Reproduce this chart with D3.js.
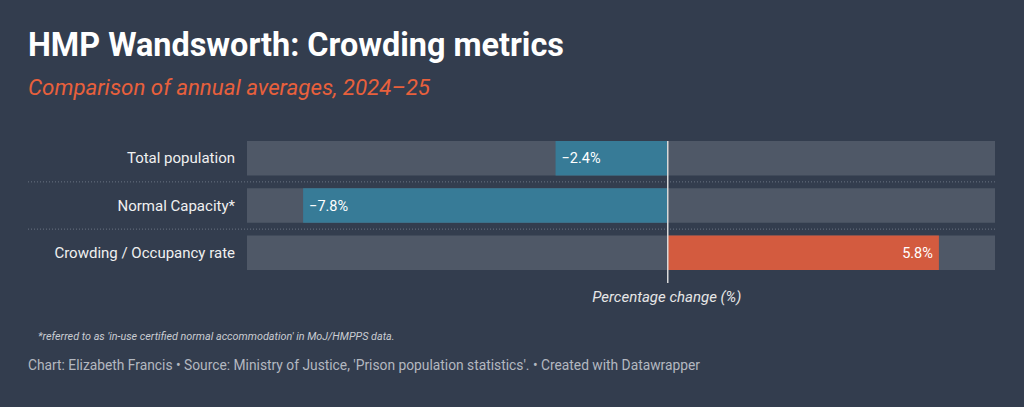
<!DOCTYPE html>
<html>
<head>
<meta charset="utf-8">
<script src="https://cdn.jsdelivr.net/npm/d3@7"></script>
<style>
  body { margin: 0; background: #333d4e; }
  svg { display: block; font-family: Roboto, "Noto Sans", sans-serif; }
</style>
</head>
<body>
<svg id="chart" width="1024" height="407"></svg>
<script>
// data
let categories = ["Total population", "Normal Capacity*", "Crowding / Occupancy rate"]
let values = [-2.4, -7.8, 5.8]
let value_labels = ["\u22122.4%", "\u22127.8%", "5.8%"]
let domain = [-9, 7]

let width = 1024
let height = 407
let left = 247
let right = 995

var svg = d3.select("#chart")

svg.append("rect").attr("width", width).attr("height", height).attr("fill", "#333d4e")

svg.append("text")
  .attr("x", 28).attr("y", 56)
  .attr("fill", "#ffffff")
  .attr("font-size", 32.4).attr("font-weight", 700)
  .text("HMP Wandsworth: Crowding metrics")

svg.append("text")
  .attr("x", 28).attr("y", 95)
  .attr("fill", "#e8603c")
  .attr("font-size", 22.3).attr("font-style", "italic").attr("font-weight", 400)
  .text("Comparison of annual averages, 2024\u201325")

let x = d3.scaleLinear().domain(domain).range([left, right])
let y = d3.scaleBand().domain(categories).range([141, 270]).paddingInner(0.27)

// dotted separators between rows
let seps = categories.slice(0, -1)
svg.selectAll("line.sep")
  .data(seps)
  .enter()
  .append("line")
  .attr("class", "sep")
  .attr("x1", 28).attr("x2", right)
  .attr("y1", d => y(d) + y.bandwidth() + y.step() * 0.27 / 2)
  .attr("y2", d => y(d) + y.bandwidth() + y.step() * 0.27 / 2)
  .attr("stroke", "#6a7382")
  .attr("stroke-width", 1)
  .attr("stroke-dasharray", "1,2")

// background tracks
svg.selectAll("rect.track")
  .data(categories)
  .enter()
  .append("rect")
  .attr("class", "track")
  .attr("x", left)
  .attr("width", right - left)
  .attr("y", d => y(d))
  .attr("height", y.bandwidth())
  .attr("fill", "#4f5867")

let rows = categories.map((c, i) => ({cat: c, v: values[i], label: value_labels[i]}))

svg.selectAll("rect.bar")
  .data(rows)
  .enter()
  .append("rect")
  .attr("class", "bar")
  .attr("x", d => Math.min(x(0), x(d.v)))
  .attr("width", d => Math.abs(x(d.v) - x(0)))
  .attr("y", d => y(d.cat))
  .attr("height", y.bandwidth())
  .attr("fill", d => d.v < 0 ? "#377b97" : "#d35b3f")

svg.selectAll("text.val")
  .data(rows)
  .enter()
  .append("text")
  .attr("class", "val")
  .attr("x", d => d.v < 0 ? x(d.v) + 6 : x(d.v) - 6)
  .attr("y", d => y(d.cat) + y.bandwidth() / 2 + 5)
  .attr("text-anchor", d => d.v < 0 ? "start" : "end")
  .attr("fill", "#ffffff")
  .attr("font-size", 14.5)
  .text(d => d.label)

svg.selectAll("text.cat")
  .data(categories)
  .enter()
  .append("text")
  .attr("class", "cat")
  .attr("x", 235)
  .attr("y", d => y(d) + y.bandwidth() / 2 + 5)
  .attr("text-anchor", "end")
  .attr("fill", "#f0f0f0")
  .attr("font-size", 15)
  .text(d => d)

// zero line
svg.append("line")
  .attr("x1", x(0)).attr("x2", x(0))
  .attr("y1", 141).attr("y2", 283)
  .attr("stroke", "#d8d8d8")
  .attr("stroke-width", 1.5)

svg.append("text")
  .attr("x", x(0) - 1).attr("y", 302)
  .attr("text-anchor", "middle")
  .attr("fill", "#e6e6e6")
  .attr("font-size", 15).attr("font-style", "italic")
  .text("Percentage change (%)")

svg.append("text")
  .attr("x", 38).attr("y", 340)
  .attr("fill", "#c9ccd2")
  .attr("font-size", 10.8).attr("font-style", "italic")
  .text("*referred to as 'in-use certified normal accommodation' in MoJ/HMPPS data.")

svg.append("text")
  .attr("x", 28).attr("y", 370)
  .attr("fill", "#b3b8c0")
  .attr("font-size", 13.8)
  .text("Chart: Elizabeth Francis \u2022 Source: Ministry of Justice, 'Prison population statistics'. \u2022 Created with Datawrapper")
</script>
</body>
</html>
